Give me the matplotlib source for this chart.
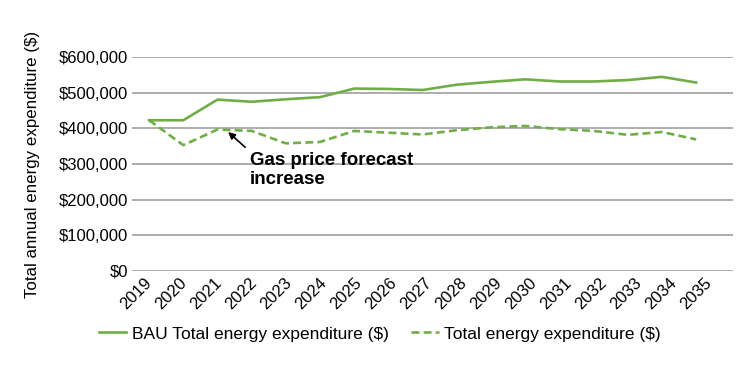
import numpy as np
import matplotlib
matplotlib.use("Agg")
import matplotlib.pyplot as plt
from matplotlib.ticker import FuncFormatter

plt.rcParams['font.family'] = ['Liberation Sans', 'DejaVu Sans']

# data
years = ['2019', '2020', '2021', '2022', '2023', '2024', '2025', '2026', '2027',
         '2028', '2029', '2030', '2031', '2032', '2033', '2034', '2035']
bau = [423000, 423000, 481000, 475000, 482000, 488000, 512000, 511000, 508000,
       523000, 531000, 538000, 532000, 532000, 536000, 545000, 529000]
total = [423000, 353000, 397000, 393000, 358000, 362000, 393000, 388000, 383000,
         395000, 403000, 407000, 398000, 393000, 382000, 390000, 369000]

green = '#70AD47'
grid_c = '#A6A6A6'

fig = plt.figure(figsize=(7.55, 3.73), dpi=100)
ax = fig.add_axes([0.1744, 0.2743, 0.7966, 0.5721])

x = np.arange(len(years))
l1, = ax.plot(x, bau, color=green, lw=1.9, label='BAU Total energy expenditure ($)')
l2, = ax.plot(x, total, color=green, lw=1.9, ls=(0, (3, 1.6)),
              label='Total energy expenditure ($)')

ax.set_xlim(-0.51, 17.08)
ax.set_ylim(0, 600000)
ax.set_yticks(np.arange(0, 600001, 100000))
ax.yaxis.set_major_formatter(FuncFormatter(lambda v, p: f"${v:,.0f}"))
ax.grid(axis='y', color=grid_c, lw=1.3)
ax.set_axisbelow(True)
for s in ax.spines.values():
    s.set_visible(False)
ax.tick_params(axis='y', length=0, pad=2.5, labelsize=12)
ax.tick_params(axis='x', length=0, pad=3, labelsize=12)

# category labels sit on a slightly wider pitch than the line points
ax.set_xticks(-0.15 + x * 1.0234)
ax.set_xticklabels(years, rotation=45, ha='right', rotation_mode='anchor')

ax.set_ylabel('Total annual energy expenditure ($)', fontsize=12.2)
ax.yaxis.set_label_coords(-0.152, 0.5)

ax.annotate('Gas price forecast\nincrease', xy=(2.31, 390000), xytext=(2.95, 335000),
            fontsize=13.5, fontweight='bold', va='top', ha='left', linespacing=1.2,
            arrowprops=dict(arrowstyle='-|>', color='black', lw=1.2, relpos=(0, 1),
                            shrinkA=2, shrinkB=0, mutation_scale=10))

fig.legend(handles=[l1, l2], loc='center', bbox_to_anchor=(0.5027, 0.1046), ncol=2,
           frameon=False, fontsize=12.5, handlelength=1.6, handletextpad=0.3,
           columnspacing=1.3)

fig.savefig('out.png', dpi=100)
